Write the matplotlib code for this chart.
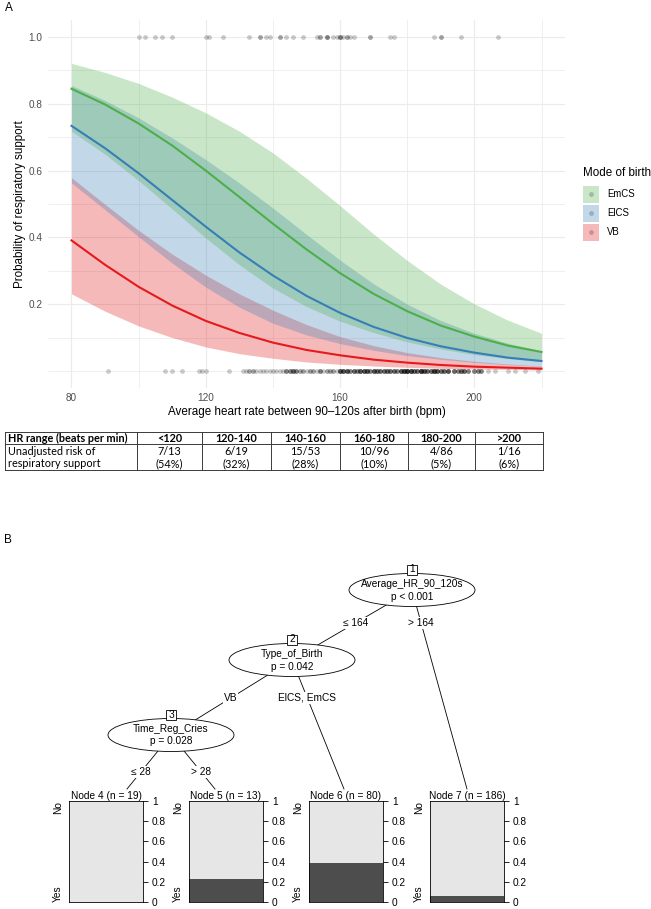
import numpy as np
import matplotlib
matplotlib.use("Agg")
import matplotlib.pyplot as plt
from matplotlib.patches import Ellipse, Rectangle

plt.rcParams['font.family'] = ['Liberation Sans', 'DejaVu Sans']

W, H = 651, 909

# ---- panel A: fitted probabilities with 95% band, read every 10 bpm ----
hr_grid = [80, 90, 100, 110, 120, 130, 140, 150, 160, 170, 180, 190, 200, 210, 220]
emcs_fit = [0.845, 0.798, 0.741, 0.675, 0.600, 0.521, 0.441, 0.364, 0.293, 0.231, 0.179, 0.136, 0.103, 0.076, 0.057]
emcs_lo = [0.718, 0.649, 0.570, 0.485, 0.398, 0.318, 0.248, 0.193, 0.149, 0.115, 0.087, 0.066, 0.049, 0.037, 0.028]
emcs_hi = [0.921, 0.894, 0.861, 0.820, 0.773, 0.718, 0.653, 0.577, 0.495, 0.410, 0.331, 0.260, 0.201, 0.152, 0.113]
elcs_fit = [0.734, 0.667, 0.592, 0.512, 0.432, 0.355, 0.286, 0.225, 0.174, 0.132, 0.099, 0.074, 0.055, 0.040, 0.030]
elcs_lo = [0.563, 0.483, 0.402, 0.323, 0.251, 0.191, 0.143, 0.108, 0.082, 0.062, 0.046, 0.035, 0.026, 0.019, 0.014]
elcs_hi = [0.855, 0.810, 0.758, 0.698, 0.633, 0.563, 0.488, 0.409, 0.332, 0.261, 0.200, 0.151, 0.113, 0.083, 0.060]
vb_fit = [0.391, 0.318, 0.252, 0.196, 0.150, 0.114, 0.085, 0.063, 0.047, 0.034, 0.025, 0.018, 0.013, 0.010, 0.007]
vb_lo = [0.231, 0.179, 0.135, 0.100, 0.072, 0.052, 0.038, 0.027, 0.020, 0.015, 0.011, 0.008, 0.006, 0.005, 0.003]
vb_hi = [0.579, 0.499, 0.421, 0.350, 0.287, 0.231, 0.182, 0.139, 0.103, 0.076, 0.055, 0.040, 0.029, 0.021, 0.015]

# observed outcomes: HR of babies who got respiratory support (plotted at 1)
yes_hr = [100, 102, 105, 107, 110, 120, 121, 125, 133, 136, 136, 138, 139, 142, 142,
          144, 146, 149, 153, 154, 154, 156, 156, 156, 158, 159, 160, 160, 160, 161,
          162, 162, 163, 164, 169, 169, 175, 176, 188, 190, 190, 196, 207]
# ... and those who did not (plotted at 0), value with how many babies
no_hr_values = [91, 108, 110, 113, 118, 119,
                120, 127, 131, 132, 133, 134, 135, 136, 137, 138, 139,
                140, 141, 142, 143, 144, 145, 146, 147, 148, 149, 150, 151, 152, 153,
                154, 155, 156, 157, 158, 159,
                160, 161, 162, 163, 164, 165, 166, 167, 168, 169, 170, 171, 172, 173,
                174, 175, 176, 177, 178, 179,
                180, 181, 182, 183, 184, 185, 186, 187, 188, 189, 190, 191, 192, 194,
                195, 196, 197, 198,
                200, 201, 202, 204, 206, 210, 212, 215, 219]
no_hr_counts = [1, 1, 1, 1, 1, 1,
                1, 1, 1, 1, 2, 2, 1, 1, 1, 1, 1,
                1, 1, 1, 1, 3, 3, 4, 3, 2, 2, 1, 2, 2, 1,
                3, 1, 2, 2, 2, 1,
                5, 5, 5, 3, 4, 3, 5, 5, 5, 3, 5, 4, 4, 4,
                4, 4, 4, 3, 5, 6,
                7, 6, 4, 4, 7, 5, 4, 4, 6, 5, 4, 4, 5, 4,
                3, 4, 4, 3,
                3, 3, 3, 1, 1, 1, 1, 1, 1]

groups = ["EmCS", "ElCS", "VB"]
group_colors = ["#4DAF4A", "#377EB8", "#E41A1C"]
curves = {"EmCS": (emcs_fit, emcs_lo, emcs_hi),
          "ElCS": (elcs_fit, elcs_lo, elcs_hi),
          "VB": (vb_fit, vb_lo, vb_hi)}

table_cols = ["<120", "120-140", "140-160", "160-180", "180-200", ">200"]
table_counts = ["7/13", "6/19", "15/53", "10/96", "4/86", "1/16"]
table_pct = ["(54%)", "(32%)", "(28%)", "(10%)", "(5%)", "(6%)"]

leaf_names = ["Node 4 (n = 19)", "Node 5 (n = 13)", "Node 6 (n = 80)", "Node 7 (n = 186)"]
leaf_yes = [0.0, 0.23, 0.39, 0.055]

fig = plt.figure(figsize=(W / 100, H / 100), dpi=100)

# overlay in pixel coordinates for labels, table and tree
ov = fig.add_axes([0, 0, 1, 1])
ov.set_xlim(0, W)
ov.set_ylim(H, 0)
ov.axis('off')

# ---- panel A ----
ax = fig.add_axes([48 / W, 1 - 387.7 / H, 517 / W, 367.4 / H])
ax.set_facecolor('none')
ax.set_xlim(73, 227)
ax.set_ylim(-0.05, 1.05)
ax.set_xticks([80, 120, 160, 200])
ax.set_xticks([100, 140, 180, 220], minor=True)
ax.set_yticks([0.2, 0.4, 0.6, 0.8, 1.0])
ax.set_yticks([0.0, 0.1, 0.3, 0.5, 0.7, 0.9], minor=True)
ax.set_yticklabels(['0.2', '0.4', '0.6', '0.8', '1.0'])
ax.grid(which='major', color='#ebebeb', lw=0.8)
ax.grid(which='minor', color='#ebebeb', lw=0.55)
ax.set_axisbelow(True)
for s in ax.spines.values():
    s.set_visible(False)
ax.tick_params(which='both', length=0, pad=3.8, labelsize=7.2, labelcolor='#4d4d4d')

ax.scatter(np.repeat(no_hr_values, no_hr_counts), np.zeros(sum(no_hr_counts)),
           s=12, color='black', alpha=0.2, lw=0, zorder=2)
ax.scatter(yes_hr, np.ones(len(yes_hr)), s=12, color='black', alpha=0.2, lw=0, zorder=2)

for g, col in zip(groups[::-1], group_colors[::-1]):
    fit, lo, hi = curves[g]
    ax.fill_between(hr_grid, lo, hi, color=col, alpha=0.3, lw=0, zorder=3)
for g, col in zip(groups[::-1], group_colors[::-1]):
    fit, lo, hi = curves[g]
    ax.plot(hr_grid, fit, color=col, lw=1.5, zorder=4)

ax.set_xlabel('Average heart rate between 90\u2013120s after birth (bpm)', fontsize=8.4)
ax.set_ylabel('Probability of respiratory support', fontsize=8.4)
ax.xaxis.set_label_coords(0.5, (387.7 - 406) / 367.4)
ax.yaxis.set_label_coords((26 - 48) / 517, 0.5)

ov.text(5, 8, 'A', fontsize=8.5, ha='left', va='center')

# legend
ov.text(583, 173, 'Mode of birth', fontsize=8.4, ha='left', va='center')
for i, (g, col) in enumerate(zip(groups, group_colors)):
    yc = 194 + 19 * i
    ov.add_patch(Rectangle((583, yc - 8.5), 16, 17, facecolor=col, alpha=0.3, lw=0))
    ov.scatter([591], [yc], s=12, color='black', alpha=0.2, lw=0)
    ov.text(607, yc, g, fontsize=6.9, ha='left', va='center')

# ---- table ----
tfont = 'Lato'
tsize = 7.8
col_edges = [5, 137, 202, 271, 340, 408, 475, 543]
t_top, t_mid, t_bot = 432, 444, 470
r1, r2 = 451.5, 463.5
for y in [t_top, t_mid, t_bot]:
    ov.plot([col_edges[0], col_edges[-1]], [y, y], color='#3a3a3a', lw=0.7)
for x in col_edges:
    ov.plot([x, x], [t_top, t_bot], color='#3a3a3a', lw=0.7)
ov.text(col_edges[0] + 3, (t_top + t_mid) / 2, 'HR range (beats per min)', fontsize=tsize,
        fontweight='bold', family=tfont, ha='left', va='center')
ov.text(col_edges[0] + 3, r1, 'Unadjusted risk of', fontsize=tsize, family=tfont,
        ha='left', va='center')
ov.text(col_edges[0] + 3, r2, 'respiratory support', fontsize=tsize, family=tfont,
        ha='left', va='center')
for i, (c, n, p) in enumerate(zip(table_cols, table_counts, table_pct)):
    xc = (col_edges[i + 1] + col_edges[i + 2]) / 2
    ov.text(xc, (t_top + t_mid) / 2, c, fontsize=tsize, fontweight='bold', family=tfont,
            ha='center', va='center')
    ov.text(xc, r1, n, fontsize=tsize, family=tfont, ha='center', va='center')
    ov.text(xc, r2, p, fontsize=tsize, family=tfont, ha='center', va='center')

# ---- panel B: tree ----
ov.text(4, 540, 'B', fontsize=8.5, ha='left', va='center')
tf = 7.3
inner = [(1, 412, 590, 'Average_HR_90_120s', 'p < 0.001'),
         (2, 292, 660, 'Type_of_Birth', 'p = 0.042'),
         (3, 171, 735, 'Time_Reg_Cries', 'p = 0.028')]
edges = [((412, 590), (292, 660), '\u2264 164', 623),
         ((412, 590), (467, 789), '> 164', 623),
         ((292, 660), (171, 735), 'VB', 698),
         ((292, 660), (344, 789), 'ElCS, EmCS', 698),
         ((171, 735), (127, 789), '\u2264 28', 772),
         ((171, 735), (215, 789), '> 28', 772)]
for (x0, y0), (x1, y1), lab, ly in edges:
    ov.plot([x0, x1], [y0, y1], color='black', lw=0.6, zorder=1)
    lx = x0 + (x1 - x0) * (ly - y0) / (y1 - y0)
    ov.text(lx, ly, lab, fontsize=tf, ha='center', va='center', zorder=3,
            bbox=dict(facecolor='white', edgecolor='none', pad=0.6))
for nid, x, y, name, pv in inner:
    ov.add_patch(Ellipse((x, y), 126, 33, facecolor='white', edgecolor='black', lw=0.6, zorder=2))
    ov.text(x, y - 6, name, fontsize=tf, ha='center', va='center', zorder=3)
    ov.text(x, y + 6.5, pv, fontsize=tf, ha='center', va='center', zorder=3)
    ov.add_patch(Rectangle((x - 5, y - 16.5 - 9), 10, 10, facecolor='white',
                           edgecolor='black', lw=0.6, zorder=3))
    ov.text(x, y - 16.5 - 4, str(nid), fontsize=tf, ha='center', va='center', zorder=4)

bar_left = [69, 189, 309, 430]
bar_w, bar_top, bar_bot = 74, 801, 902
for x0, name, yes in zip(bar_left, leaf_names, leaf_yes):
    bx = fig.add_axes([x0 / W, 1 - bar_bot / H, bar_w / W, (bar_bot - bar_top) / H])
    bx.bar([0], [yes], width=1, color='#4D4D4D', lw=0)
    bx.bar([0], [1 - yes], bottom=[yes], width=1, color='#E6E6E6', lw=0)
    bx.set_xlim(-0.5, 0.5)
    bx.set_ylim(0, 1)
    bx.set_xticks([])
    bx.yaxis.tick_right()
    bx.set_yticks([0, 0.2, 0.4, 0.6, 0.8, 1])
    bx.set_yticklabels(['0', '0.2', '0.4', '0.6', '0.8', '1'])
    bx.tick_params(axis='y', length=3.5, width=0.6, pad=3, labelsize=tf)
    for s in bx.spines.values():
        s.set_linewidth(0.6)
    bx.text(-0.15, 1, 'No', transform=bx.transAxes, rotation=90, fontsize=tf,
            ha='center', va='top')
    bx.text(-0.15, 0, 'Yes', transform=bx.transAxes, rotation=90, fontsize=tf,
            ha='center', va='bottom')
    bx.set_title(name, fontsize=tf, pad=1.5)

fig.savefig('out.png', dpi=100)
